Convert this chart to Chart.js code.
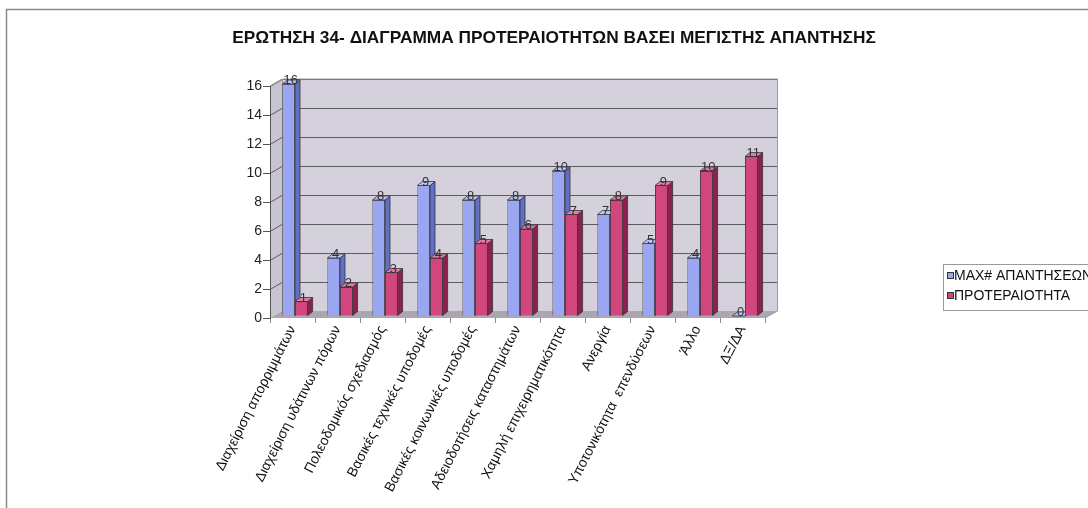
<!DOCTYPE html>
<html><head><meta charset="utf-8">
<script src="https://cdn.jsdelivr.net/npm/chart.js@4.4.1/dist/chart.umd.min.js"></script>
<style>html,body{margin:0;padding:0;background:#fff;overflow:hidden}</style>
</head><body>
<canvas id="c" width="1088" height="508"></canvas>
<script>
const titleText = 'ΕΡΩΤΗΣΗ 34- ΔΙΑΓΡΑΜΜΑ ΠΡΟΤΕΡΑΙΟΤΗΤΩΝ ΒΑΣΕΙ ΜΕΓΙΣΤΗΣ ΑΠΑΝΤΗΣΗΣ';
const categories = ['Διαχείριση απορριμμάτων','Διαχείριση υδάτινων πόρων','Πολεοδομικός σχεδιασμός','Βασικές τεχνικές υποδομές','Βασικές κοινωνικές υποδομές','Αδειοδοτήσεις καταστημάτων','Χαμηλή επιχειρηματικότητα','Ανεργία','Υποτονικότητα  επενδύσεων','Άλλο','ΔΞ/ΔΑ'];
const seriesNames = ['MAX# ΑΠΑΝΤΗΣΕΩΝ','ΠΡΟΤΕΡΑΙΟΤΗΤΑ'];
const maxAnswers = [16,4,8,9,8,8,10,7,5,4,0];
const priority = [1,2,3,4,5,6,7,8,9,10,11];
const yTicks = [0,2,4,6,8,10,12,14,16];

const FONT = '"Liberation Sans", Arial, sans-serif';
const XFONT = '"Liberation Sans", Arial, sans-serif';
const WALL = {dx:12, dy:-7};
const BAR = {dx:5, dy:-4, shiftX:2.5, shiftY:-2};
const faces = [
  {front:'#9AA6F2', side:'#6270C4', top:'#BCC3FA'},
  {front:'#D2467E', side:'#8E2050', top:'#E27CA3'}
];

const framePlugin = {
  id:'frame',
  beforeDraw(chart){
    const ctx = chart.ctx, a = chart.chartArea;
    const ys = chart.scales.y;
    ctx.save();
    ctx.fillStyle = '#fff'; ctx.fillRect(0,0,chart.width,chart.height);
    ctx.strokeStyle = '#8a8a8a'; ctx.lineWidth = 1.5;
    ctx.beginPath(); ctx.moveTo(6.5, chart.height); ctx.lineTo(6.5, 9.5); ctx.lineTo(chart.width, 9.5); ctx.stroke();
    const y0 = ys.getPixelForValue(0), yT = ys.getPixelForValue(16);
    const L = a.left, R = a.right, dx = WALL.dx, dy = WALL.dy;
    ctx.fillStyle = '#D4D1DD';
    ctx.fillRect(L+dx, yT+dy, R-L, y0-yT);
    ctx.fillStyle = '#C8C5D2';
    ctx.beginPath(); ctx.moveTo(L,y0); ctx.lineTo(L,yT); ctx.lineTo(L+dx,yT+dy); ctx.lineTo(L+dx,y0+dy); ctx.closePath(); ctx.fill();
    ctx.fillStyle = '#ABA6AF';
    ctx.beginPath(); ctx.moveTo(L,y0); ctx.lineTo(R,y0); ctx.lineTo(R+dx,y0+dy); ctx.lineTo(L+dx,y0+dy); ctx.closePath(); ctx.fill();
    ctx.strokeStyle = '#5c5a62'; ctx.lineWidth = 1;
    yTicks.forEach(v=>{
      if (v===0) return;
      const y = Math.round(ys.getPixelForValue(v))+0.5;
      ctx.beginPath(); ctx.moveTo(L,y); ctx.lineTo(L+dx,y+dy); ctx.lineTo(R+dx,y+dy); ctx.stroke();
    });
    ctx.strokeStyle = '#9a98a0';
    ctx.beginPath(); ctx.moveTo(L+dx+0.5,y0+dy); ctx.lineTo(L+dx+0.5,yT+dy); ctx.lineTo(R+dx+0.5,yT+dy); ctx.lineTo(R+dx+0.5,y0+dy); ctx.lineTo(R,y0); ctx.stroke();
    ctx.beginPath(); ctx.moveTo(L,yT); ctx.lineTo(L+dx,yT+dy); ctx.stroke();
    ctx.restore();
  },
  afterDraw(chart){
    const ctx = chart.ctx;
    ctx.save();
    ctx.fillStyle = '#111'; ctx.font = 'bold 17.3px '+FONT;
    ctx.textAlign = 'center'; ctx.textBaseline = 'middle';
    ctx.fillText(titleText, 554, 38);
    ctx.strokeStyle = '#9a9a9a'; ctx.lineWidth = 1;
    ctx.strokeRect(943.5, 264.5, 160, 46);
    ctx.font = '14px '+FONT; ctx.textAlign = 'left';
    chart.data.datasets.forEach((ds,i)=>{
      const yc = 275 + i*20;
      ctx.fillStyle = ds.backgroundColor; ctx.fillRect(947, yc-3, 6, 6);
      ctx.strokeStyle = '#333'; ctx.strokeRect(947.5, yc-2.5, 6, 6);
      ctx.fillStyle = '#111'; ctx.fillText(ds.label, 954, yc+1);
    });
    ctx.restore();
  }
};

function drawFaces(ctx, el, f){
  const p = el.getProps(['x','y','base','width'], true);
  const l = p.x - p.width/2, r = p.x + p.width/2, t = Math.min(p.y,p.base), b = Math.max(p.y,p.base);
  const dx = BAR.dx, dy = BAR.dy;
  ctx.lineWidth = 0.8; ctx.strokeStyle = '#333';
  ctx.fillStyle = f.side;
  ctx.beginPath(); ctx.moveTo(r,b); ctx.lineTo(r,t); ctx.lineTo(r+dx,t+dy); ctx.lineTo(r+dx,b+dy); ctx.closePath(); ctx.fill(); ctx.stroke();
  ctx.fillStyle = f.top;
  ctx.beginPath(); ctx.moveTo(l,t); ctx.lineTo(r,t); ctx.lineTo(r+dx,t+dy); ctx.lineTo(l+dx,t+dy); ctx.closePath(); ctx.fill(); ctx.stroke();
}

const bars3d = {
  id:'bars3d',
  beforeDatasetsDraw(chart){ chart.ctx.save(); chart.ctx.translate(BAR.shiftX, BAR.shiftY); },
  afterDatasetsDraw(chart){
    const ctx = chart.ctx;
    const m0 = chart.getDatasetMeta(0), m1 = chart.getDatasetMeta(1);
    for (let i=0;i<categories.length;i++){
      drawFaces(ctx, m0.data[i], faces[0]);
      m1.data[i].draw(ctx);
      drawFaces(ctx, m1.data[i], faces[1]);
    }
    ctx.font = '13px '+FONT; ctx.fillStyle = '#333'; ctx.textAlign = 'center'; ctx.textBaseline = 'bottom';
    [m0,m1].forEach((m,di)=>{
      m.data.forEach((el,i)=>{
        const p = el.getProps(['x','y'], true);
        ctx.fillText(String(chart.data.datasets[di].data[i]), p.x+2, p.y+3);
      });
    });
    ctx.restore();
  }
};

new Chart(document.getElementById('c'), {
  type:'bar',
  data:{
    labels: categories,
    datasets:[
      {label:seriesNames[0], data:maxAnswers, backgroundColor:faces[0].front, borderColor:'#333', borderWidth:0.8, categoryPercentage:0.56, barPercentage:1},
      {label:seriesNames[1], data:priority, backgroundColor:faces[1].front, borderColor:'#333', borderWidth:0.8, categoryPercentage:0.56, barPercentage:1}
    ]
  },
  options:{
    responsive:false, animation:false, devicePixelRatio:1,
    layout:{padding:{left:0,right:323,top:86,bottom:0}},
    plugins:{legend:{display:false}, tooltip:{enabled:false}, title:{display:false}},
    scales:{
      x:{
        grid:{display:true, drawOnChartArea:false, offset:true, tickLength:5, color:'#8a8a8a'},
        border:{display:false},
        ticks:{minRotation:63, maxRotation:63, autoSkip:false, padding:0, color:'#111', font:{family:XFONT, size:14}},
        afterFit:s=>{ s.height = 190; }
      },
      y:{
        min:0, max:16,
        afterBuildTicks:s=>{ s.ticks = yTicks.map(v=>({value:v})); },
        grid:{drawOnChartArea:false, tickLength:7, color:'#555'},
        border:{display:true, color:'#555'},
        ticks:{padding:1, color:'#222', font:{family:FONT, size:14}},
        afterFit:s=>{ s.width = 270; }
      }
    }
  },
  plugins:[framePlugin, bars3d]
});
</script>
</body></html>
